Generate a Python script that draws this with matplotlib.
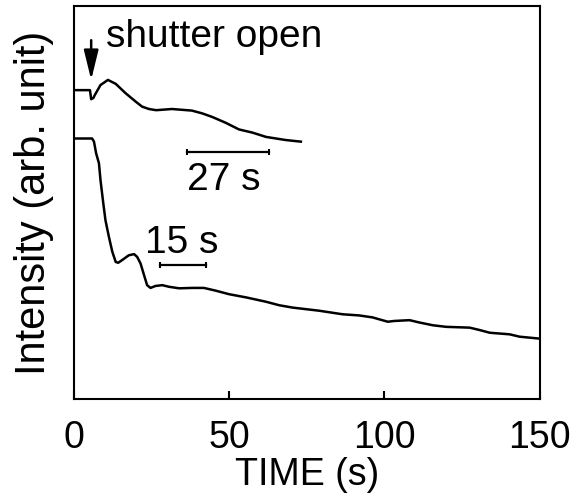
import matplotlib.pyplot as plt

plt.rcParams['font.family'] = ['Liberation Sans', 'DejaVu Sans']

# upper trace (shutter open)
t_up = [0, 5.2, 5.6, 6.3, 6.8, 8.6, 11.0, 13.5, 16.7, 19.9, 22.0, 24.2, 26.5,
        31.6, 38.0, 41.3, 44.5, 48.9, 53.2, 57.5, 61.9, 68.3, 73.1]
i_up = [78.6, 78.6, 76.3, 76.6, 77.4, 79.9, 81.2, 80.2, 77.8, 75.7, 74.4, 73.8, 73.5,
        73.8, 73.4, 72.7, 71.8, 70.3, 68.6, 67.8, 66.7, 65.9, 65.5]

# lower trace
t_lo = [0, 5.9, 6.5, 7.2, 8.1, 8.6, 9.5, 10.2, 11.3, 12.4, 13.5, 14.3, 15.6, 17.7,
        19.4, 20.4, 21.5, 22.6, 23.6, 24.7, 26.3, 28.5, 30.6, 33.9, 38.2, 41.9,
        45.7, 50.0, 55.4, 61.8, 66.1, 70.4, 74.7, 79.0, 86.5, 91.9, 96.2, 98.4,
        101.1, 103.2, 108.1, 111.3, 115.6, 119.9, 127.4, 130.6, 133.9, 140.3,
        143.5, 150.0]
i_lo = [66.3, 66.3, 65.5, 62.5, 60.0, 55.7, 49.8, 45.5, 41.3, 37.5, 34.9, 34.7, 35.4, 36.6,
        36.9, 36.2, 34.5, 31.6, 29.0, 28.3, 28.8, 29.0, 28.6, 28.2, 28.3, 28.3,
        27.6, 26.7, 25.9, 24.8, 23.9, 23.3, 22.9, 22.5, 21.6, 21.3, 20.8, 20.3,
        19.7, 19.9, 20.1, 19.5, 18.8, 18.4, 18.2, 17.6, 16.9, 16.5,
        15.9, 15.4]

# scale bars: (start, end, level)
bar27 = [36.5, 62.9, 62.9]
bar15 = [27.7, 42.6, 34.1]

xticks = [0, 50, 100, 150]

fig = plt.figure(figsize=(5.81, 4.99), dpi=100)
ax = fig.add_axes([0.127, 0.2, 0.802, 0.788])

ax.plot(t_up, i_up, color='black', lw=1.8)
ax.plot(t_lo, i_lo, color='black', lw=1.8)

for b in (bar27, bar15):
    ax.plot(b[:2], [b[2], b[2]], color='black', lw=1.6, marker='|', markersize=5, mew=1.5)

ax.text(48.4, 53.2, '27 s', fontsize=28, ha='center', va='baseline')
ax.text(34.8, 37.2, '15 s', fontsize=28, ha='center', va='baseline')
ax.text(10.3, 89.6, 'shutter open', fontsize=28, ha='left', va='baseline')

ax.annotate('', xy=(5.6, 81.2), xytext=(5.6, 91.3),
            arrowprops=dict(arrowstyle='-|>,head_length=0.9,head_width=0.22',
                            mutation_scale=20, color='black', lw=1.8,
                            shrinkA=0, shrinkB=0))

ax.set_xlim(0, 150)
ax.set_ylim(0, 100)
ax.set_xticks(xticks)
ax.set_yticks([])
ax.tick_params(axis='x', direction='in', length=6, width=1.5, labelsize=27, pad=15)
for s in ax.spines.values():
    s.set_linewidth(1.5)

ax.set_xlabel('TIME (s)', fontsize=27, labelpad=1)
ax.set_ylabel('Intensity (arb. unit)', fontsize=30, labelpad=14)

fig.savefig('out.png', dpi=100)
